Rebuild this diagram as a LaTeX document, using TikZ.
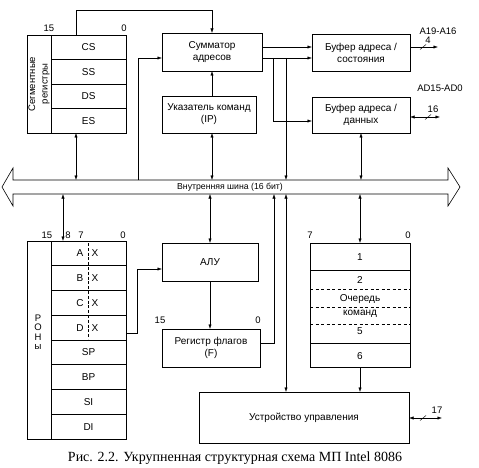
\documentclass[tikz,border=0pt]{standalone}
\usepackage{fontspec}
\setmainfont{Liberation Sans}
\newfontfamily\capfont{Liberation Serif}
\usetikzlibrary{arrows.meta}
\begin{document}
\begin{tikzpicture}[x=1pt,y=-1pt,
  box/.style={draw, line width=0.75pt, inner sep=0pt, outer sep=0pt, anchor=north west, align=center, font=\fontsize{10}{12}\selectfont},
  conn/.style={line width=0.45pt, -{Latex[length=4.5pt,width=3.2pt]}},
  dconn/.style={line width=0.45pt, {Latex[length=4.5pt,width=3.2pt]}-{Latex[length=4.5pt,width=3.2pt]}},
  num/.style={font=\fontsize{9.5}{10}\selectfont, inner sep=0pt},
  txt/.style={font=\fontsize{10}{11}\selectfont, inner sep=0pt},
  tick/.style={line width=0.45pt},
  qsep/.style={line width=0.6pt, dash pattern=on 3pt off 2.5pt}
]
\useasboundingbox (0,0) rectangle (479,468);
\fill[white] (0,0) rectangle (479,468);

% ---------- coordinates ----------
\coordinate (bt) at (0,180);
\coordinate (bb) at (0,194);
\coordinate (ytop) at (0,10);
\coordinate (y47) at (0,47);
\coordinate (y58) at (0,58);
\coordinate (y121) at (0,121);
\coordinate (y269) at (0,269);
\coordinate (y333) at (0,333);
\coordinate (y343) at (0,343);
\coordinate (x63) at (63,0);
\coordinate (x76) at (76,0);
\coordinate (x137) at (137,0);
\coordinate (x138) at (138,0);
\coordinate (x273) at (273,0);
\coordinate (x274) at (274,0);
\coordinate (x286) at (286,0);

% ---------- segment registers ----------
\node[box, minimum width=24pt, minimum height=98pt] (segL) at (27,35) {};
\node[box, minimum width=75pt, minimum height=24.5pt] (cs) at (51,35) {CS};
\node[box, minimum width=75pt, minimum height=24.5pt] (ss) at (51,59.5) {SS};
\node[box, minimum width=75pt, minimum height=24.5pt] (ds) at (51,84) {DS};
\node[box, minimum width=75pt, minimum height=24.5pt] (es) at (51,108.5) {ES};
\node[rotate=90, align=center, inner sep=0pt, font=\fontsize{9.5}{12.5}\selectfont] (segtxt) at (segL.center) {Сегментные\\регистры};
\node[num] (s15) at (49,28) {15};
\node[num] (s0) at (124,28) {0};

% ---------- address adder, IP, buffers ----------
\node[box, minimum width=100pt, minimum height=38pt] (sum) at (162,33) {Сумматор\\адресов};
\node[box, minimum width=94pt, minimum height=37pt] (ip) at (162,96) {Указатель команд\\(IP)};
\node[box, minimum width=98pt, minimum height=37pt] (bufA) at (312,34) {Буфер адреса /\\состояния};
\node[box, minimum width=98pt, minimum height=36pt] (bufD) at (312,97) {Буфер адреса /\\данных};

% ---------- bus ----------
\draw[line width=0.6pt] (13,180) -- (448,180) -- (448,168) -- (460,187) -- (448,206) -- (448,194)
  -- (13,194) -- (13,206) -- (2,187) -- (13,168) -- cycle;
\node[font=\fontsize{8.7}{10}\selectfont, inner sep=0pt] (busl) at (230,187) {Внутренняя шина (16 бит)};

% ---------- general registers ----------
\node[box, minimum width=24pt, minimum height=198pt] (ronL) at (27,241) {};
\node[box, minimum width=75pt, minimum height=24.75pt] (ax) at (51,241) {};
\node[box, minimum width=75pt, minimum height=24.75pt] (bx) at (51,265.75) {};
\node[box, minimum width=75pt, minimum height=24.75pt] (cx) at (51,290.5) {};
\node[box, minimum width=75pt, minimum height=24.75pt] (dx) at (51,315.25) {};
\node[box, minimum width=75pt, minimum height=24.75pt] (sp) at (51,340) {SP};
\node[box, minimum width=75pt, minimum height=24.75pt] (bp) at (51,364.75) {BP};
\node[box, minimum width=75pt, minimum height=24.75pt] (si) at (51,389.5) {SI};
\node[box, minimum width=75pt, minimum height=24.75pt] (di) at (51,414.25) {DI};
\foreach \r/\h in {ax/A, bx/B, cx/C, dx/D}{
  \node[txt] at (80,0 |- \r.center) {\h};
  \node[txt] at (95,0 |- \r.center) {X};
}
\draw[line width=0.6pt, dash pattern=on 3pt off 1.8pt] (88,243) -- (88,339);
\node[font=\fontsize{9.5}{9.5}\selectfont, inner sep=0pt, align=center] (rontxt) at (38,332) {Р\\О\\Н\\ы};
\node[num] (r15) at (47,235) {15};
\node[num] (r8) at (68,235) {8};
\node[num] (r7) at (81,235) {7};
\node[num] (r0) at (123,235) {0};

% ---------- ALU, flags ----------
\node[box, minimum width=96pt, minimum height=38pt] (alu) at (162,243) {АЛУ};
\node[box, minimum width=98pt, minimum height=38pt] (flags) at (162,329) {Регистр флагов\\(F)};
\node[num] (f15) at (160,320) {15};
\node[num] (f0) at (258,320) {0};

% ---------- queue ----------
\node[box, minimum width=100pt, minimum height=124pt] (q) at (310,243) {};
\draw[line width=0.75pt] (310,270) -- (410,270);
\draw[line width=0.75pt] (310,343) -- (410,343);
\draw[qsep] (310,289) -- (410,289);
\draw[qsep] (310,307) -- (410,307);
\draw[qsep] (310,324) -- (410,324);
\node[txt] at (360,257) {1};
\node[txt] at (360,280) {2};
\node[txt] at (360,299) {Очередь};
\node[txt] at (360,314) {команд};
\node[txt] at (360,331) {5};
\node[txt] at (360,356) {6};
\node[num] (q7) at (310,235) {7};
\node[num] (q0) at (408,235) {0};

% ---------- control unit ----------
\node[box, minimum width=210pt, minimum height=51pt] (cu) at (199,392) {Устройство управления};

% ---------- outputs ----------
\coordinate (outA) at (438,47);
\coordinate (outD) at (440,117);
\coordinate (outC) at (442,418);
\node[num] (la) at (438,31) {A19-A16};
\node[num] (l4) at (428,40) {4};
\node[num] (ld) at (440,88) {AD15-AD0};
\node[num] (l16) at (433,109) {16};
\node[num] (l17) at (437,410) {17};

% ---------- connectors ----------
\draw[conn] (cs.north -| x76) -- (x76 |- ytop) -| (sum.north);
\draw[dconn] (es.south -| x76) -- (x76 |- bt);
\draw[conn] (x138 |- bt) |- (sum.west |- y58);
\draw[conn] (ip.north -| sum.north) -- (sum.south);
\draw[dconn] (ip.south -| sum.south) -- (sum.south |- bt);
\draw[conn] (sum.east |- y47) -- (bufA.west |- y47);
\draw[conn] (sum.east |- y58) -- (bufA.west |- y58);
\draw[conn] (x273 |- y58) |- (bufD.west |- y121);
\draw[conn] (x286 |- y58) -- (x286 |- bt);
\draw[dconn] (bufD.south) -- (bufD.south |- bt);
\draw[conn] (bufA.east |- y47) -- (outA);
\draw[tick] (423,47) ++(-3,2.5) -- ++(6,-5);
\draw[dconn] (bufD.east |- outD) -- (outD);
\draw[tick] (428,117) ++(-3,2.5) -- ++(6,-5);

\draw[dconn] (x63 |- bb) -- (x63 |- ax.north);
\draw[conn] (dx.east |- y333) -- (x137 |- y333) |- (alu.west |- y269);
\draw[dconn] (alu.north) -- (alu.north |- bb);
\draw[conn] (alu.south) -- (alu.south |- flags.north);
\draw[conn] (flags.east |- y343) -| (x274 |- bb);
\draw[dconn] (x286 |- bb) -- (x286 |- cu.north);
\draw[dconn] (q.north) -- (q.north |- bb);
\draw[conn] (q.south) -- (q.south |- cu.north);
\draw[dconn] (cu.east |- outC) -- (outC);
\draw[tick] (423,418) ++(-3,2.5) -- ++(6,-5);

% ---------- caption ----------
\node[font=\capfont\fontsize{14}{16}\selectfont, inner sep=0pt] (cap) at (235,458) {Рис. 2.2. Укрупненная структурная схема МП Intel 8086};
\end{tikzpicture}
\end{document}
